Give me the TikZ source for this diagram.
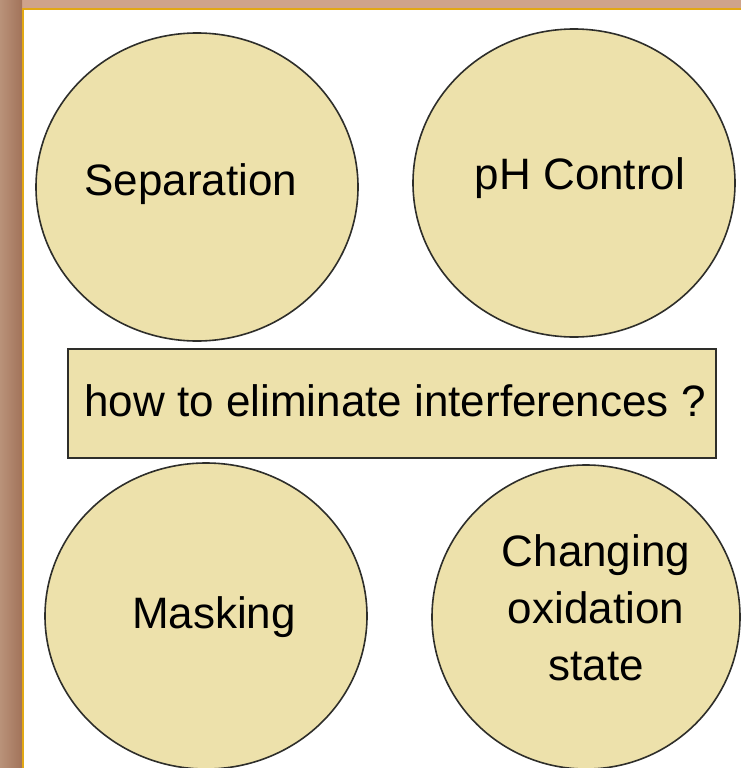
\documentclass[tikz,border=0pt]{standalone}
\usepackage{fontspec}
\setmainfont{Liberation Sans}
\usetikzlibrary{shapes.geometric}
\definecolor{disc}{HTML}{EDE1AB}
\definecolor{frametop}{HTML}{CFA38B}
\definecolor{frameleftA}{HTML}{B99279}
\definecolor{frameleftB}{HTML}{A2735A}
\definecolor{goldline}{HTML}{E2A814}
\definecolor{edge}{HTML}{2E2E2A}
\tikzset{
  disk/.style={ellipse, draw=edge, line width=1.6pt, fill=disc, inner sep=0pt},
  qbox/.style={rectangle, draw=edge, line width=1.6pt, fill=disc, inner sep=0pt, anchor=north west},
  lbl/.style={font=\fontsize{44}{57}\selectfont, text=black, align=center, inner sep=0pt}
}
\begin{document}
\begin{tikzpicture}[x=1pt,y=-1pt]
\useasboundingbox (0,0) rectangle (741,768);
\fill[white] (0,0) rectangle (741,768);
% frame
\fill[frametop] (0,0) rectangle (741,8);
\shade[left color=frameleftA, right color=frameleftB] (0,0) rectangle (22,768);
\draw[goldline, line width=2.2pt] (23.1,768) -- (23.1,9.1) -- (741,9.1);
% discs
\node[disk, minimum width=322pt, minimum height=308pt] (sep) at (197,187) {};
\node[disk, minimum width=322pt, minimum height=308pt] (ph) at (574,183) {};
\node[disk, minimum width=322pt, minimum height=306pt] (mask) at (206,616) {};
\node[disk, minimum width=308pt, minimum height=304pt] (chg) at (586,617) {};
% central box
\node[qbox, minimum width=648pt, minimum height=109pt] (q) at (67,348) {};
% labels
\node[lbl] (tsep) at (191,184) {Separation};
\node[lbl] (tph) at (580,178) {pH Control};
\node[lbl] (tmask) at (214,617) {Masking};
\node[lbl] (tchg) at (596,608) {Changing\\oxidation\\state};
\node[lbl] (tq) at (395,401) {how to eliminate interferences ?};
\end{tikzpicture}
\end{document}
